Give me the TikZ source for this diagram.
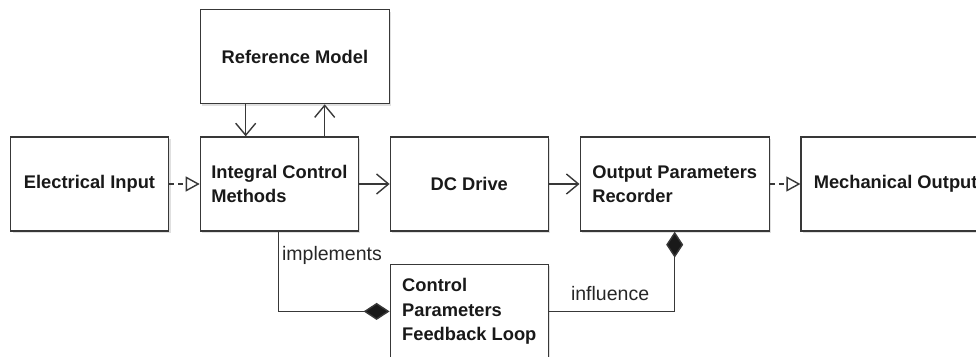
\documentclass[tikz,border=0pt]{standalone}
\usepackage{fontspec}
\setmainfont{Liberation Sans}
\usetikzlibrary{arrows.meta,positioning,shadows}

\begin{document}
\begin{tikzpicture}[
        x = 1pt, y = 1pt,
        > = {Straight Barb[length=12pt,width=20pt]}, % open arrow head
        node distance = 30.5pt, % gap between blocks
        line width = 1.4pt, % line style
        draw = black!78
    ]

    \tikzstyle{block}=[
        draw = black!78,
        fill = white,
        line width = 1.4pt,
        minimum width = 158pt,
        minimum height = 94pt,
        align = left,
        text = black!90,
        font = \fontsize{18.3}{24.5}\selectfont\bfseries,
        drop shadow = {shadow xshift=2pt, shadow yshift=-2pt, fill=black!12, opacity=1}
    ]
    \tikzstyle{wide block}=[block, minimum width = 189pt]
    \tikzstyle{realize}=[dash pattern=on 5pt off 4pt, -{Triangle[open,length=14pt,width=15pt,fill=white]}]
    \tikzstyle{compose}=[-{Diamond[length=26pt,width=17pt,fill=black!90]}]
    \tikzstyle{role}=[font=\fontsize{19.5}{20}\selectfont, text=black!85, inner sep=3pt]

    \useasboundingbox (0,0) rectangle (976,-356);

    \node[block] (elec) at (89.5,-184) {Electrical Input};
    \node[block] (integral) [right=of elec] {Integral Control\\Methods};
    \node[wide block] (reference) [above=32pt of integral.north west, anchor=south west] {Reference Model};
    \node[block] (dcdrive) [right=of integral] {DC Drive};
    \node[wide block] (output) [right=of dcdrive] {Output Parameters\\Recorder};
    \node[wide block] (mech) [right=of output] {Mechanical Output};
    \node[block] (control) [below=32pt of dcdrive] {Control\\Parameters\\Feedback Loop};

    \draw[realize] (elec) -- (integral);
    \draw[->] ([xshift=46pt]reference.south west) -- ([xshift=46pt]integral.north west);
    \draw[->] ([xshift=125pt]integral.north west) -- ([xshift=125pt]reference.south west);
    \draw[->] (integral) -- (dcdrive);
    \draw[->] (dcdrive) -- (output);
    \draw[realize] (output) -- (mech);

    \draw[compose] ([xshift=-1pt]integral.south) |- (control.west)
        node[role, pos=0.18, anchor=base west] {implements};
    \draw[compose] (control.east) -| (output.south)
        node[role, pos=0.243, anchor=base, yshift=11pt] {influence};

\end{tikzpicture}
\end{document}
